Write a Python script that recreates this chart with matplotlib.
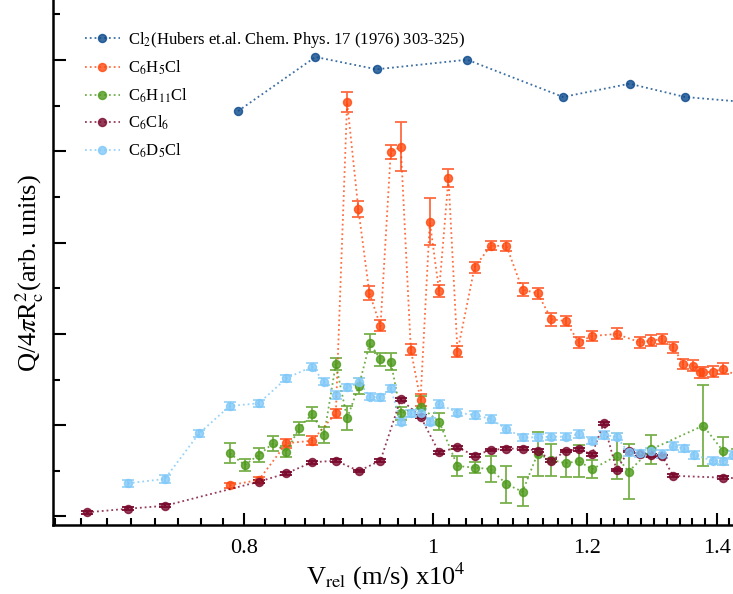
import numpy as np
import matplotlib
matplotlib.use("Agg")
import matplotlib.pyplot as plt
from matplotlib.ticker import FixedLocator, NullFormatter

plt.rcParams['font.family'] = ['Liberation Serif', 'DejaVu Serif']
plt.rcParams['mathtext.fontset'] = 'stix'

# Cl2 reference data (Hubers et al.)
cl2_v = [0.7945, 0.8707, 0.9359, 1.0418, 1.1671, 1.2626, 1.3480, 1.5083]
cl2_q = [4.441, 5.033, 4.898, 5.003, 4.595, 4.740, 4.595, 4.507]

# C6H5Cl
c6h5_v = [0.7867, 0.8142, 0.8413, 0.8672, 0.8919, 0.9039, 0.9160, 0.9280, 0.9403,
          0.9518, 0.9632, 0.9747, 0.9859, 0.9968, 1.0078, 1.0191, 1.0300, 1.0510,
          1.0714, 1.0915, 1.1124, 1.1323, 1.1512, 1.1705, 1.1890, 1.2075, 1.2433,
          1.2781, 1.2955, 1.3125, 1.3294, 1.3456, 1.3616, 1.3721, 1.3775, 1.3939,
          1.4104, 1.4420]
c6h5_q = [0.342, 0.400, 0.802, 0.830, 1.130, 4.537, 3.368, 2.448, 2.087,
          3.992, 4.050, 1.824, 1.276, 3.229, 2.470, 3.704, 1.805, 2.729,
          2.966, 2.963, 2.484, 2.445, 2.160, 2.141, 1.908, 1.977, 1.999,
          1.908, 1.926, 1.944, 1.853, 1.670, 1.652, 1.579, 1.579, 1.586,
          1.616, 1.517]
c6h5_err = [0.03, 0.03, 0.05, 0.05, 0.05, 0.11, 0.09, 0.08, 0.06,
            0.08, 0.27, 0.06, 0.07, 0.26, 0.07, 0.10, 0.06, 0.06,
            0.05, 0.05, 0.07, 0.06, 0.07, 0.06, 0.06, 0.06, 0.06,
            0.06, 0.06, 0.06, 0.06, 0.06, 0.06, 0.06, 0.06, 0.06,
            0.06, 0.06]

# C6H11Cl
c6h11_v = [0.7867, 0.8008, 0.8142, 0.8281, 0.8413, 0.8540, 0.8672, 0.8796, 0.8919,
           0.9039, 0.9165, 0.9285, 0.9403, 0.9518, 0.9632, 0.9859, 1.0078, 1.0300,
           1.0510, 1.0714, 1.0915, 1.1124, 1.1323, 1.1512, 1.1705, 1.1890, 1.2075,
           1.2433, 1.2611, 1.2955, 1.3775, 1.4104, 1.4471]
c6h11_q = [0.692, 0.564, 0.674, 0.802, 0.710, 0.966, 1.123, 0.893, 1.670,
           1.076, 1.429, 1.897, 1.722, 1.696, 1.130, 1.203, 1.038, 0.553,
           0.535, 0.520, 0.353, 0.272, 0.685, 0.619, 0.583, 0.608, 0.517,
           0.663, 0.491, 0.736, 0.995, 0.717, 0.772]
c6h11_err = [0.11, 0.07, 0.08, 0.08, 0.06, 0.07, 0.08, 0.09, 0.07,
             0.13, 0.09, 0.10, 0.07, 0.09, 0.07, 0.12, 0.09, 0.11,
             0.06, 0.14, 0.20, 0.16, 0.24, 0.18, 0.15, 0.18, 0.10,
             0.25, 0.30, 0.16, 0.44, 0.15, 0.0]

# C6Cl6
c6cl6_v = [0.6648, 0.6975, 0.7285, 0.8142, 0.8413, 0.8672, 0.8919, 0.9165, 0.9403,
           0.9630, 0.9859, 1.0078, 1.0300, 1.0510, 1.0714, 1.0915, 1.1124, 1.1323,
           1.1512, 1.1705, 1.1890, 1.2075, 1.2247, 1.2433, 1.2611, 1.2781, 1.2955,
           1.3125, 1.3294, 1.4104, 1.4471]
c6cl6_q = [0.046, 0.085, 0.117, 0.381, 0.473, 0.594, 0.611, 0.498, 0.613,
           1.284, 1.093, 0.703, 0.758, 0.666, 0.728, 0.743, 0.743, 0.721,
           0.611, 0.717, 0.736, 0.681, 1.021, 0.509, 0.717, 0.679, 0.668,
           0.659, 0.446, 0.425, 0.416]

# C6D5Cl
c6d5_v = [0.6975, 0.7285, 0.7587, 0.7867, 0.8142, 0.8413, 0.8672, 0.8796, 0.8919,
          0.9039, 0.9165, 0.9285, 0.9403, 0.9518, 0.9630, 0.9747, 0.9859, 0.9968,
          1.0078, 1.0300, 1.0510, 1.0714, 1.0915, 1.1124, 1.1323, 1.1512, 1.1705,
          1.1890, 1.2075, 1.2247, 1.2433, 1.2611, 1.2781, 1.2955, 1.3125, 1.3294,
          1.3459, 1.3621, 1.3939, 1.4104, 1.4267]
c6d5_q = [0.364, 0.411, 0.911, 1.210, 1.240, 1.514, 1.641, 1.476, 1.331,
          1.415, 1.476, 1.312, 1.306, 1.402, 1.038, 1.130, 1.137, 1.038,
          1.232, 1.137, 1.112, 1.068, 0.958, 0.867, 0.867, 0.874, 0.874,
          0.904, 0.830, 0.893, 0.874, 0.701, 0.690, 0.712, 0.685, 0.772,
          0.747, 0.674, 0.611, 0.605, 0.674]
c6d5_err = 0.04

labels = [r"Cl$_2$(Hubers et.al. Chem. Phys. 17 (1976) 303-325)",
          r"C$_6$H$_5$Cl", r"C$_6$H$_{11}$Cl", r"C$_6$Cl$_6$", r"C$_6$D$_5$Cl"]
colors = ["#0b4a8c", "#ff4a10", "#4e9a1c", "#7a0a2e", "#80c8f8"]
ecolors = ["#0b4a8c", "#ff6a40", "#78b04c", "#7a0a2e", "#9ad4fa"]

fig = plt.figure(figsize=(7.33, 5.94), dpi=100)
ax = fig.add_axes([0.0719, 0.1162, 0.9281, 0.8838])

series = [(cl2_v, cl2_q, None), (c6h5_v, c6h5_q, c6h5_err),
          (c6h11_v, c6h11_q, c6h11_err), (c6cl6_v, c6cl6_q, 0.015),
          (c6d5_v, c6d5_q, c6d5_err)]

for i, (v, q, err) in enumerate(series):
    ax.plot(v, q, linestyle=':', linewidth=1.3, color=colors[i], alpha=0.8,
            marker='o', markersize=5.8, markerfacecolor=colors[i],
            markeredgecolor=colors[i], label=labels[i], zorder=3)
    if err is not None:
        ax.errorbar(v, q, yerr=err, fmt='none', ecolor=ecolors[i],
                    elinewidth=1.3, capsize=4.5, capthick=1.3, zorder=2)

ax.set_xscale('log')
ax.set_xlim(0.638, 1.427)
ax.set_ylim(-0.093, 5.657)

ax.xaxis.set_major_locator(FixedLocator([0.8, 1.0, 1.2, 1.4]))
ax.set_xticklabels(["0.8", "1", "1.2", "1.4"])
ax.xaxis.set_minor_locator(FixedLocator(np.arange(0.64, 1.43, 0.02)))
ax.xaxis.set_minor_formatter(NullFormatter())
ax.yaxis.set_major_locator(FixedLocator(np.arange(0, 6, 1.0)))
ax.yaxis.set_minor_locator(FixedLocator(np.arange(0.5, 6, 1.0)))
ax.set_yticklabels([])

ax.tick_params(which='both', direction='in', top=False, right=False, width=1.5)
ax.tick_params(which='major', length=9, labelsize=16, pad=10)
ax.tick_params(which='minor', length=5)
for side in ['top', 'right']:
    ax.spines[side].set_visible(False)
for side in ['left', 'bottom']:
    ax.spines[side].set_linewidth(1.8)

ax.set_xlabel(r"V$_{\mathrm{rel}}$ (m/s) x10$^4$", fontsize=19)
ax.set_ylabel(r"Q/4$\pi$R$^2_{\mathrm{c}}$(arb. units)", fontsize=19)
ax.yaxis.set_label_coords(-0.01, 0.48)
ax.xaxis.set_label_coords(0.49, -0.068)

ax.legend(loc='upper left', bbox_to_anchor=(0.025, 0.972), frameon=False,
          fontsize=12, handlelength=2.1, labelspacing=0.55, handletextpad=0.5)

fig.savefig("out.png", dpi=100)
